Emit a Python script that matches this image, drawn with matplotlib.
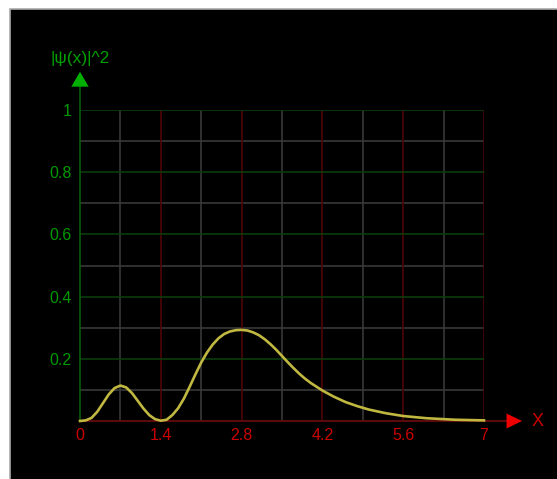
import matplotlib
matplotlib.use("Agg")
import matplotlib.pyplot as plt
from matplotlib.patches import Rectangle, Polygon

# Data
x_vals = [0.0, 0.1, 0.2, 0.3, 0.4, 0.5, 0.6, 0.7, 0.8, 0.9, 1.0, 1.1, 1.2, 1.3, 1.4,
          1.5, 1.6, 1.7, 1.8, 1.9, 2.0, 2.1, 2.2, 2.3, 2.4, 2.5, 2.6, 2.7, 2.8, 2.9,
          3.0, 3.1, 3.2, 3.3, 3.4, 3.5, 3.6, 3.7, 3.8, 3.9, 4.0, 4.2, 4.4, 4.6, 4.8,
          5.0, 5.3, 5.6, 6.0, 6.5, 7.0]
psi2_vals = [0.0, 0.002, 0.010, 0.030, 0.058, 0.086, 0.106, 0.114, 0.108, 0.090, 0.065,
             0.040, 0.019, 0.006, 0.001, 0.004, 0.019, 0.041, 0.072, 0.110, 0.150, 0.188,
             0.220, 0.246, 0.266, 0.280, 0.288, 0.292, 0.293, 0.291, 0.285, 0.276, 0.263,
             0.247, 0.229, 0.209, 0.189, 0.170, 0.152, 0.136, 0.122, 0.098, 0.078, 0.061,
             0.048, 0.037, 0.025, 0.016, 0.009, 0.004, 0.002]
x_ticks = [0, 1.4, 2.8, 4.2, 5.6, 7]
x_tick_labels = ["0", "1.4", "2.8", "4.2", "5.6", "7"]
y_ticks = [0.2, 0.4, 0.6, 0.8, 1.0]
y_tick_labels = ["0.2", "0.4", "0.6", "0.8", "1"]
y_label = "|\u03c8(x)|^2"
x_label = "X"

W, H = 557, 479
fig = plt.figure(figsize=(W / 100, H / 100), dpi=100)
fig.patch.set_facecolor("white")
fig.patches.append(Rectangle((10 / W, -0.05), 1.1, (H - 9) / H + 0.05,
                             transform=fig.transFigure, facecolor="black",
                             edgecolor="#aaaaaa", linewidth=1.2, zorder=-10))

ax = fig.add_axes([80 / W, 58 / H, 404 / W, 311 / H])
ax.set_zorder(5)
ax.set_facecolor("black")
ax.set_xlim(0, 7)
ax.set_ylim(0, 1)
for s in ax.spines.values():
    s.set_visible(False)

green_grid = "#0d3d0d"
red_grid = "#4d0505"
grey_grid = "#383838"
for xv in [0.7, 2.1, 3.5, 4.9, 6.3]:
    ax.axvline(xv, color=grey_grid, lw=1.2, zorder=1)
for yv in [0.1, 0.3, 0.5, 0.7, 0.9]:
    ax.axhline(yv, color=grey_grid, lw=1.2, zorder=1)
for xv in x_ticks[1:]:
    ax.axvline(xv, color=red_grid, lw=1.2, zorder=1.5)
for yv in y_ticks:
    ax.axhline(yv, color=green_grid, lw=1.2, zorder=1.5)

# axes lines
ax.plot([0, 0], [0, 1.075], color="#0d5a0d", lw=1.2, clip_on=False, zorder=2)
ax.plot([0, 7.4], [0, 0], color="#5a0a0a", lw=1.5, clip_on=False, zorder=2)

# arrows
ax.add_patch(Polygon([(-0.15, 1.075), (0.15, 1.075), (0, 1.123)], closed=True,
                     facecolor="#00b000", edgecolor="none", clip_on=False, zorder=3))
ax.add_patch(Polygon([(7.39, -0.024), (7.39, 0.024), (7.66, 0)], closed=True,
                     facecolor="#ee0000", edgecolor="none", clip_on=False, zorder=3))
ax.text(0, 1.165, y_label, color="#00a000", fontsize=12.5, family="Liberation Sans",
        ha="center", va="center", clip_on=False)
ax.text(7.92, 0, x_label, color="#cc0000", fontsize=13, family="Liberation Sans",
        ha="center", va="center", clip_on=False)

ax.set_xticks(x_ticks)
ax.set_xticklabels(x_tick_labels)
ax.set_yticks(y_ticks)
ax.set_yticklabels(y_tick_labels)
ax.tick_params(axis="x", colors="#cc0000", length=0, pad=5, labelsize=11.5)
ax.tick_params(axis="y", colors="#009900", length=0, pad=6, labelsize=11.5)
for lbl in ax.get_xticklabels() + ax.get_yticklabels():
    lbl.set_family("Liberation Sans")

ax.plot(x_vals, psi2_vals, color="#c0b840", lw=1.9, zorder=4, clip_on=False,
        solid_joinstyle="round")

fig.savefig("out.png", dpi=100, facecolor=fig.get_facecolor())
